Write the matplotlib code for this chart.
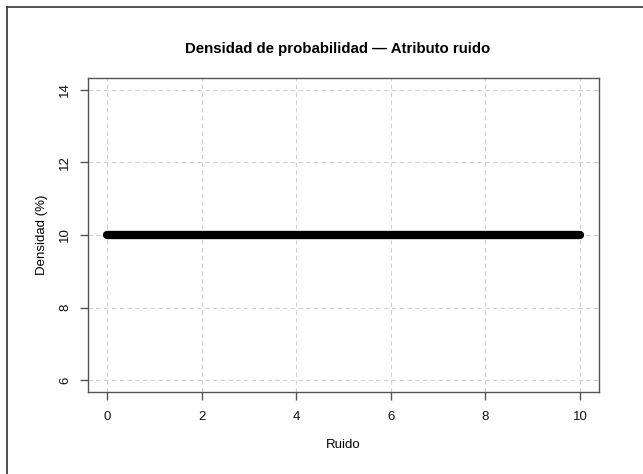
import matplotlib
matplotlib.use("Agg")
import matplotlib.pyplot as plt
from matplotlib.lines import Line2D

plt.rcParams['font.family'] = ['Liberation Sans', 'DejaVu Sans']

ruido = [0.0, 10.0]
densidad = [10.0, 10.0]
xticks = [0, 2, 4, 6, 8, 10]
yticks = [6, 8, 10, 12, 14]

fig = plt.figure(figsize=(6.43, 4.74), dpi=100)
ax = fig.add_axes([88/643, 1-392/474, (599-88)/643, (392-78)/474])

ax.plot(ruido, densidad, color='black', lw=6.0, solid_capstyle='round', zorder=3)

ax.set_xlim(-0.4, 10.4)
ax.set_ylim(5.68, 14.32)
ax.set_xticks(xticks)
ax.set_yticks(yticks)
ax.set_xticklabels([str(v) for v in xticks])
ax.set_yticklabels([str(v) for v in yticks], rotation=90, va='center')
ax.grid(True, color='#d0d0d0', linestyle=(0, (4, 3)), linewidth=0.8)
ax.set_axisbelow(True)
for s in ax.spines.values():
    s.set_color('#555555')
    s.set_linewidth(1.0)
ax.tick_params(axis='both', direction='out', length=6, width=1.0, color='#555555',
               labelsize=9.5, labelcolor='#111111')
ax.tick_params(axis='x', pad=8)
ax.tick_params(axis='y', pad=6)

ax.set_xlabel('Ruido', fontsize=9.5, labelpad=11)
ax.set_ylabel('Densidad (%)', fontsize=9.5, labelpad=8)
ax.set_title('Densidad de probabilidad \u2014 Atributo ruido', fontsize=10.8,
             fontweight='bold', pad=18, x=0.488)

fig.add_artist(Line2D([6.5/643, 6.5/643], [0, 1-6.5/474], transform=fig.transFigure,
                      color='#333333', lw=1.2))
fig.add_artist(Line2D([6.5/643, 1], [1-6.5/474, 1-6.5/474], transform=fig.transFigure,
                      color='#333333', lw=1.2))

fig.savefig('out.png', dpi=100)
